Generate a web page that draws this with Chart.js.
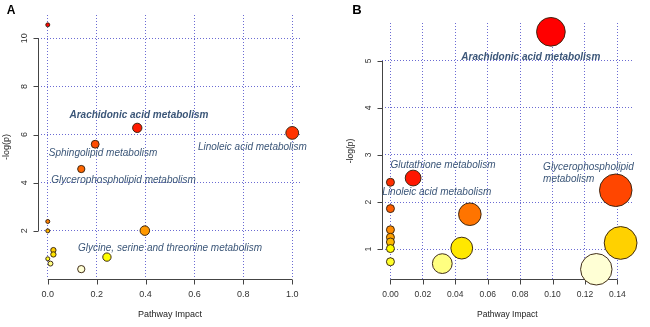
<!DOCTYPE html>
<html>
<head>
<meta charset="utf-8">
<script src="https://cdn.jsdelivr.net/npm/chart.js@4/dist/chart.umd.min.js"></script>
<style>
  html, body { margin: 0; padding: 0; background: #fff; width: 650px; height: 327px; overflow: hidden; }
  canvas { position: absolute; top: 0; }
  #panelA { left: 0; }
  #panelB { left: 325px; }
</style>
</head>
<body>
<canvas id="panelA" width="325" height="327"></canvas>
<canvas id="panelB" width="325" height="327"></canvas>
<script>
// ---- Panel A: pathway impact vs -log(p) ----
const impactA = [0.000, 0.366, 1.000, 0.194, 0.137, 0.000, 0.397, 0.000, 0.023, 0.023, 0.242, 0.000, 0.011, 0.137];
const logpA   = [10.56, 6.28, 6.07, 5.60, 4.57, 2.39, 2.01, 2.00, 1.20, 1.02, 0.91, 0.84, 0.64, 0.41];
const xTicksA = [0, 0.2, 0.4, 0.6, 0.8, 1.0];
const xTickTextA = ["0.0", "0.2", "0.4", "0.6", "0.8", "1.0"];
const yTicksA = [2, 4, 6, 8, 10];
const yTickTextA = ["2", "4", "6", "8", "10"];
const pathwaysA = ["Arachidonic acid metabolism", "Sphingolipid metabolism", "Linoleic acid metabolism",
                   "Glycerophospholipid metabolism", "Glycine, serine and threonine metabolism"];
const pathwayXA = [0.373, 0.226, 0.837, 0.310, 0.500];
const pathwayYA = [6.79, 5.24, 5.46, 4.11, 1.26];
const pathwayBoldA = [true, false, false, false, false];

// ---- Panel B ----
const impactB = [0.099, 0.014, 0.000, 0.139, 0.000, 0.049, 0.000, 0.000, 0.000, 0.142, 0.044, 0.000, 0.000, 0.032, 0.127];
const logpB   = [5.62, 2.51, 2.42, 2.25, 1.86, 1.74, 1.41, 1.25, 1.15, 1.13, 1.02, 1.01, 0.73, 0.69, 0.57];
const xTicksB = [0, 0.02, 0.04, 0.06, 0.08, 0.10, 0.12, 0.14];
const xTickTextB = ["0.00", "0.02", "0.04", "0.06", "0.08", "0.10", "0.12", "0.14"];
const yTicksB = [1, 2, 3, 4, 5];
const yTickTextB = ["1", "2", "3", "4", "5"];
const pathwaysB = ["Arachidonic acid metabolism", "Glutathione metabolism", "Linoleic acid metabolism",
                   "Glycerophospholipid", "metabolism"];
const pathwayXB = [0.0866, 0.0324, 0.0286, 0.0942, 0.0942];
const pathwayYB = [5.07, 2.78, 2.20, 2.74, 2.49];
const pathwayBoldB = [true, false, false, false, false];
const pathwayAlignB = ["center", "center", "center", "left", "left"];

const FONT = '"Liberation Sans", Arial, Helvetica, sans-serif';
const GRID = 'rgba(70,70,200,0.8)';
const AXIS = '#444';
const LABEL = '#3b5678';

// R-style heat.colors palette: red -> yellow, then fading towards white
function hsvHex(h, s, v) {
  const f = (n) => {
    const k = (n + h * 6) % 6;
    return v - v * s * Math.max(0, Math.min(k, 4 - k, 1));
  };
  const to = (c) => Math.round(c * 255).toString(16).padStart(2, '0');
  return '#' + to(f(5)) + to(f(3)) + to(f(1));
}
function heatColors(n) {
  const j = Math.floor(n / 4), i = n - j, out = [];
  for (let k = 0; k < i; k++) out.push(hsvHex(i > 1 ? (k / (i - 1)) / 6 : 0, 1, 1));
  for (let k = 0; k < j; k++) {
    const s0 = 1 - 1 / (2 * j), s1 = 1 / (2 * j);
    out.push(hsvHex(1 / 6, j > 1 ? s0 + (s1 - s0) * k / (j - 1) : s0, 1));
  }
  return out;
}
// colour by rank of -log(p): most significant is red
function rankColors(values) {
  const pal = heatColors(values.length);
  const order = values.map((v, i) => i).sort((a, b) => values[b] - values[a]);
  const cols = new Array(values.length);
  order.forEach((idx, r) => { cols[idx] = pal[r]; });
  return cols;
}

function makePanel(id, p) {
  const colors = rankColors(p.logp);
  const framePlugin = {
    id: 'frame' + id,
    beforeDatasetsDraw(chart) {
      const { ctx, chartArea: a, scales: { x, y } } = chart;
      ctx.save();
      ctx.strokeStyle = AXIS;
      ctx.lineWidth = 1;
      ctx.fillStyle = '#333';
      // x axis
      const bx = Math.round(a.bottom) + 0.5;
      ctx.beginPath();
      ctx.moveTo(x.getPixelForValue(p.xTicks[0]), bx);
      ctx.lineTo(x.getPixelForValue(p.xTicks[p.xTicks.length - 1]), bx);
      p.xTicks.forEach(v => {
        const px = Math.round(x.getPixelForValue(v)) + 0.5;
        ctx.moveTo(px, bx); ctx.lineTo(px, bx + 5);
      });
      ctx.stroke();
      ctx.font = p.tickFont + 'px ' + FONT;
      ctx.textAlign = 'center';
      ctx.textBaseline = 'middle';
      p.xTicks.forEach((v, i) => ctx.fillText(p.xTickText[i], x.getPixelForValue(v), a.bottom + 16));
      // y axis
      const lx = Math.round(a.left) + 0.5;
      ctx.beginPath();
      ctx.moveTo(lx, y.getPixelForValue(p.yTicks[0]));
      ctx.lineTo(lx, y.getPixelForValue(p.yTicks[p.yTicks.length - 1]));
      p.yTicks.forEach(v => {
        const py = Math.round(y.getPixelForValue(v)) + 0.5;
        ctx.moveTo(lx, py); ctx.lineTo(lx - 5, py);
      });
      ctx.stroke();
      p.yTicks.forEach((v, i) => {
        ctx.save();
        ctx.translate(a.left - 13, y.getPixelForValue(v));
        ctx.rotate(-Math.PI / 2);
        ctx.fillText(p.yTickText[i], 0, 0);
        ctx.restore();
      });
      // axis titles
      ctx.fillStyle = '#222';
      ctx.font = p.titleFont + 'px ' + FONT;
      ctx.fillText('Pathway Impact', (a.left + a.right) / 2, a.bottom + 36);
      ctx.save();
      ctx.translate(a.left - 31, (a.top + a.bottom) / 2);
      ctx.rotate(-Math.PI / 2);
      ctx.fillText('-log(p)', 0, 0);
      ctx.restore();
      // panel letter
      ctx.fillStyle = '#000';
      ctx.font = 'bold ' + p.letterSize + 'px ' + FONT;
      ctx.fillText(p.letter, p.letterX, p.letterY);
      ctx.restore();
    },
    afterDatasetsDraw(chart) {
      const { ctx, scales: { x, y } } = chart;
      ctx.save();
      ctx.fillStyle = LABEL;
      ctx.textBaseline = 'middle';
      p.names.forEach((t, i) => {
        ctx.font = (p.bold[i] ? 'italic bold ' : 'italic ') + '10px ' + FONT;
        ctx.textAlign = p.align ? p.align[i] : 'center';
        ctx.fillText(t, x.getPixelForValue(p.nameX[i]), y.getPixelForValue(p.nameY[i]));
      });
      ctx.restore();
    }
  };

  return new Chart(document.getElementById(id), {
    type: 'scatter',
    data: {
      datasets: [{
        data: p.impact.map((v, i) => ({ x: v, y: p.logp[i] })),
        pointRadius: c => p.size(c.raw.x),
        pointHoverRadius: c => p.size(c.raw.x),
        pointBackgroundColor: c => colors[c.dataIndex],
        pointBorderColor: 'rgba(55,35,15,0.95)',
        pointBorderWidth: 1,
        clip: false
      }]
    },
    options: {
      responsive: false,
      animation: false,
      devicePixelRatio: 1,
      events: [],
      layout: { padding: { top: p.padTop, right: p.padRight, left: 0, bottom: 0 } },
      plugins: { legend: { display: false }, tooltip: { enabled: false } },
      scales: {
        x: {
          type: 'linear', min: p.xMin, max: p.xMax,
          afterBuildTicks: s => { s.ticks = p.xTicks.map(v => ({ value: v })); },
          afterFit: s => { s.height = 48; },
          ticks: { display: false },
          grid: { color: GRID, lineWidth: 1, drawTicks: false },
          border: { display: false, dash: [1, 2] }
        },
        y: {
          type: 'linear', min: p.yMin, max: p.yMax,
          afterBuildTicks: s => { s.ticks = p.yTicks.map(v => ({ value: v })); },
          afterFit: s => { s.width = p.yWidth; },
          ticks: { display: false },
          grid: { color: GRID, lineWidth: 1, drawTicks: false },
          border: { display: false, dash: [1, 2] }
        }
      }
    },
    plugins: [framePlugin]
  });
}

makePanel('panelA', {
  impact: impactA, logp: logpA,
  xTicks: xTicksA, xTickText: xTickTextA, yTicks: yTicksA, yTickText: yTickTextA,
  names: pathwaysA, nameX: pathwayXA, nameY: pathwayYA, bold: pathwayBoldA,
  xMin: -0.04, xMax: 1.04, yMin: 0, yMax: 10.97,
  padTop: 15, padRight: 23, yWidth: 38,
  size: v => 2 + 4.4 * Math.sqrt(v),
  tickFont: 9, titleFont: 9,
  letter: 'A', letterSize: 12, letterX: 11, letterY: 11
});

makePanel('panelB', {
  impact: impactB, logp: logpB,
  xTicks: xTicksB, xTickText: xTickTextB, yTicks: yTicksB, yTickText: yTickTextB,
  names: pathwaysB, nameX: pathwayXB, nameY: pathwayYB, bold: pathwayBoldB, align: pathwayAlignB,
  xMin: -0.0052, xMax: 0.1494, yMin: 0.363, yMax: 5.807,
  padTop: 23, padRight: 10, yWidth: 57,
  size: v => 4 + 32.9 * Math.sqrt(v),
  tickFont: 8.5, titleFont: 8.5,
  letter: 'B', letterSize: 13, letterX: 32, letterY: 10
});
</script>
</body>
</html>
